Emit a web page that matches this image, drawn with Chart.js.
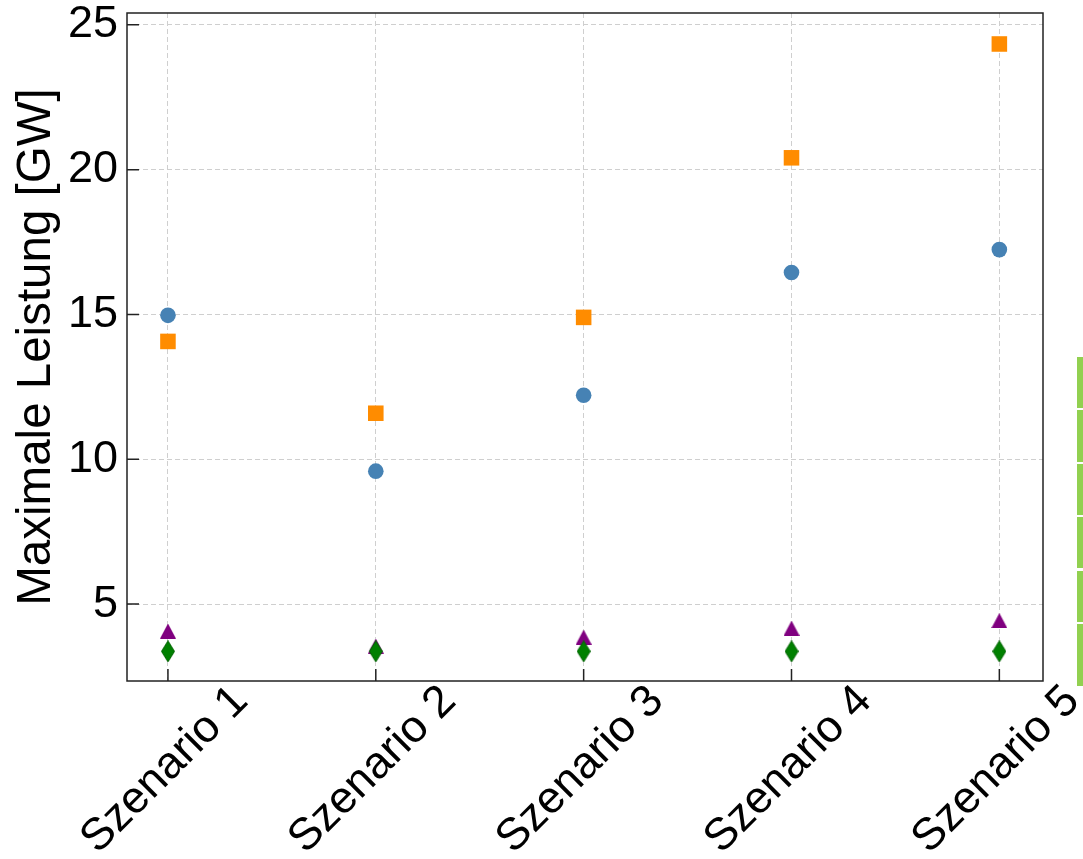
<!doctype html>
<html>
<head>
<meta charset="utf-8">
<script src="https://cdn.jsdelivr.net/npm/chart.js@4"></script>
<style>
  body { margin: 0; background: #fff; }
</style>
</head>
<body>
<canvas id="canvas" width="1083" height="859"></canvas>
<script>
const scenarios = ['Szenario 1', 'Szenario 2', 'Szenario 3', 'Szenario 4', 'Szenario 5'];
const squares = [14.07, 11.59, 14.9, 20.41, 24.34];
const circles = [14.97, 9.59, 12.21, 16.45, 17.24];
const triangles = [4.07, 3.55, 3.86, 4.17, 4.43];
const diamonds = [3.37, 3.37, 3.37, 3.37, 3.37];
const yTicks = [5, 10, 15, 20, 25];

const FONT = '"Liberation Sans", Arial, sans-serif';

// matplotlib-like markers drawn once on small canvases
function marker(w, h, draw) {
  const c = document.createElement('canvas');
  c.width = w; c.height = h;
  draw(c.getContext('2d'), w, h);
  return c;
}
const triMarker = marker(16, 15, (g, w, h) => {
  g.fillStyle = '#800080';
  g.beginPath(); g.moveTo(w / 2, 0); g.lineTo(w, h); g.lineTo(0, h); g.closePath(); g.fill();
});
const diaMarker = marker(14, 22, (g, w, h) => {
  g.fillStyle = '#008000'; g.strokeStyle = '#006400'; g.lineWidth = 1;
  g.beginPath(); g.moveTo(w / 2, 0.5); g.lineTo(w - 0.5, h / 2); g.lineTo(w / 2, h - 0.5); g.lineTo(0.5, h / 2); g.closePath();
  g.fill(); g.stroke();
});

const toPoints = (arr) => arr.map((v, i) => ({ x: i, y: v }));

const frame = {
  id: 'frame',
  afterDraw(chart) {
    const { ctx, chartArea: a, scales: { x, y } } = chart;
    ctx.save();
    ctx.strokeStyle = '#222';
    ctx.lineWidth = 1.5;
    ctx.strokeRect(a.left, a.top, a.right - a.left, a.bottom - a.top);
    ctx.beginPath();
    yTicks.forEach((v) => {
      const py = y.getPixelForValue(v);
      ctx.moveTo(a.left, py); ctx.lineTo(a.left + 12, py);
    });
    scenarios.forEach((_, i) => {
      const px = x.getPixelForValue(i);
      ctx.moveTo(px, a.bottom); ctx.lineTo(px, a.bottom - 12);
    });
    ctx.stroke();

    // rotated category labels, centred under each tick
    ctx.fillStyle = '#000';
    ctx.font = '45px ' + FONT;
    ctx.textAlign = 'center';
    ctx.textBaseline = 'middle';
    scenarios.forEach((s, i) => {
      const px = x.getPixelForValue(i);
      ctx.save();
      ctx.translate(px - 3, a.bottom + 89);
      ctx.rotate(-Math.PI / 4);
      ctx.fillText(s, 0, 0);
      ctx.restore();
    });

    // cut-off green strip at the right edge
    ctx.fillStyle = '#92d050';
    [[357, 408], [410, 462], [464, 515], [517, 568], [571, 622], [624, 686]].forEach(([y0, y1]) => {
      ctx.fillRect(1077, y0, 6, y1 - y0);
    });
    ctx.restore();
  }
};

new Chart(document.getElementById('canvas').getContext('2d'), {
  type: 'scatter',
  data: {
    datasets: [
      { label: 'diamonds', data: toPoints(diamonds), pointStyle: diaMarker },
      { label: 'triangles', data: toPoints(triangles), pointStyle: triMarker },
      { label: 'squares', data: toPoints(squares), pointStyle: 'rect', pointRadius: 11,
        backgroundColor: '#ff8c00', borderColor: '#ff8c00', borderWidth: 0 },
      { label: 'circles', data: toPoints(circles), pointStyle: 'circle', pointRadius: 7.8,
        backgroundColor: '#4682b4', borderColor: '#4682b4', borderWidth: 0 },
    ],
  },
  options: {
    responsive: false,
    animation: false,
    events: [],
    layout: { padding: { left: 0, top: 13, right: 40, bottom: 0 } },
    plugins: { legend: { display: false }, tooltip: { enabled: false } },
    scales: {
      x: {
        type: 'linear',
        min: -0.197,
        max: 4.21,
        afterBuildTicks: (s) => { s.ticks = scenarios.map((_, i) => ({ value: i })); },
        afterFit: (s) => { s.height = 178; s.paddingLeft = 0; s.paddingRight = 0; },
        ticks: { display: false },
        grid: { color: '#cfcfcf', lineWidth: 1, drawTicks: false },
        border: { display: false, dash: [5, 3] },
      },
      y: {
        min: 2.345,
        max: 25.41,
        afterBuildTicks: (s) => { s.ticks = yTicks.map((v) => ({ value: v })); },
        afterFit: (s) => { s.width = 127; s.paddingTop = 0; s.paddingBottom = 0; },
        ticks: { color: '#000', padding: 9, font: { family: FONT, size: 45 } },
        grid: { color: '#cfcfcf', lineWidth: 1, drawTicks: false },
        border: { display: false, dash: [5, 3] },
        title: {
          display: true,
          text: 'Maximale Leistung [GW]',
          color: '#000',
          font: { family: FONT, size: 47.5 },
          padding: { top: 8, bottom: 0 },
        },
      },
    },
  },
  plugins: [frame],
});
</script>
</body>
</html>
